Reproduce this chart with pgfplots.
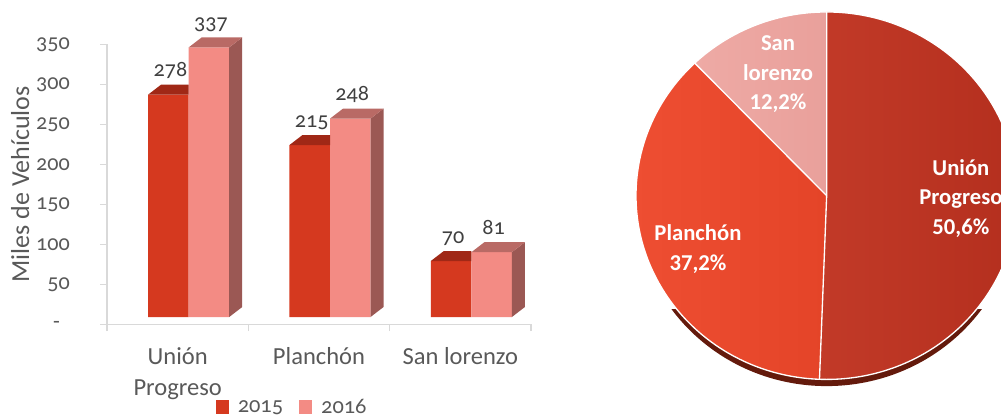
\documentclass[border=0pt]{standalone}
\usepackage{pgfplots}
\pgfplotsset{compat=1.18}
\usepackage{pgfplotstable}
\usepackage{fontspec}
\setmainfont{Carlito}
\newfontfamily\osf{Carlito}[Numbers=OldStyle]

\definecolor{c15}{RGB}{213,57,31}
\definecolor{t15}{RGB}{160,40,22}
\definecolor{c16}{RGB}{243,139,132}
\definecolor{t16}{RGB}{185,106,101}
\definecolor{s16}{RGB}{155,88,84}
\definecolor{txt}{RGB}{89,89,89}
\definecolor{lab}{RGB}{64,64,64}
\definecolor{axl}{RGB}{217,217,217}
\definecolor{pUa}{RGB}{194,58,40}
\definecolor{pUb}{RGB}{180,47,30}
\definecolor{pPa}{RGB}{238,78,50}
\definecolor{pPb}{RGB}{228,68,40}
\definecolor{pSa}{RGB}{238,170,165}
\definecolor{pSb}{RGB}{233,160,155}
\definecolor{shd}{RGB}{100,26,12}

\pgfplotstableread{
x a b
0 278 337
1 215 248
2 70 81
}\bardata

\pgfplotstableread{
name value
U 337
P 248
S 81
}\piedata

% visible top face of the 2015 bar; origin = top centre of front face
\pgfdeclareplotmark{cubeA}{%
  \pgfpathmoveto{\pgfqpoint{-15.2pt}{0pt}}%
  \pgfpathlineto{\pgfqpoint{15.2pt}{0pt}}%
  \pgfpathlineto{\pgfqpoint{15.2pt}{7.5pt}}%
  \pgfpathlineto{\pgfqpoint{-5.45pt}{7.5pt}}%
  \pgfpathclose
  \pgfsetfillcolor{t15}\pgfusepathqfill
}
% top + side faces of the 2016 bar
\pgfdeclareplotmark{cubeB}{%
  \pgfpathmoveto{\pgfqpoint{15.2pt}{0pt}}%
  \pgfpathlineto{\pgfqpoint{24.95pt}{7.5pt}}%
  \pgfpathlineto{\pgfpoint{24.95pt}{7.5pt-\rawy*0.6pt}}%
  \pgfpathlineto{\pgfpoint{15.2pt}{-\rawy*0.6pt}}%
  \pgfpathclose
  \pgfsetfillcolor{s16}\pgfusepathqfill
  \pgfpathmoveto{\pgfqpoint{-15.2pt}{0pt}}%
  \pgfpathlineto{\pgfqpoint{15.2pt}{0pt}}%
  \pgfpathlineto{\pgfqpoint{24.95pt}{7.5pt}}%
  \pgfpathlineto{\pgfqpoint{-5.45pt}{7.5pt}}%
  \pgfpathclose
  \pgfsetfillcolor{t16}\pgfusepathqfill
}

\begin{document}
\begin{tikzpicture}
\path[use as bounding box] (0,0) rectangle (750.75pt,312.75pt);
\clip (0,0) rectangle (750.75pt,312.75pt);

% pie angles from the data
\pgfplotstablegetelem{0}{value}\of\piedata \let\vU\pgfplotsretval
\pgfplotstablegetelem{1}{value}\of\piedata \let\vP\pgfplotsretval
\pgfplotstablegetelem{2}{value}\of\piedata \let\vS\pgfplotsretval
\pgfmathsetmacro{\tot}{\vU+\vP+\vS}
\pgfmathsetmacro{\fU}{\vU/\tot}
\pgfmathsetmacro{\fP}{\vP/\tot}
\pgfmathsetmacro{\aU}{90-360*\fU}
\pgfmathsetmacro{\aP}{\aU-360*\fP}

\begin{axis}[
  at={(80.25pt,69.375pt)}, anchor=south west,
  x=106pt, y=0.6pt,
  xmin=-0.5, xmax=2.5, ymin=0, ymax=350,
  clip=false,
  axis x line*=bottom, axis y line*=left,
  axis line style={draw=axl, line width=0.8pt},
  tick style={draw=axl, line width=0.8pt},
  tick align=outside,
  major tick length=5pt,
  ytick={0,50,...,350},
  yticklabels={{-}\rule{7.5pt}{0pt},50,100,150,200,250,300,350},
  yticklabel style={font=\osf\fontsize{16.6}{18}\selectfont, text=txt, anchor=east, xshift=-19.3pt},
  xtick={0,1,2},
  xticklabels={{Unión\\Progreso},Planchón,San lorenzo},
  xticklabel style={font=\fontsize{18.4}{23.3}\selectfont, text=txt, align=center, anchor=north, yshift=-8.6pt},
  x tick style={draw=none},
  minor xtick={-0.5,0.5,1.5,2.5},
  minor x tick style={draw=axl, line width=0.8pt},
  minor tick length=5pt,
  ylabel={Miles de Vehículos},
  every axis y label/.style={at={(axis description cs:-0.1835,0.5)}, rotate=90, anchor=base, font=\fontsize{19.5}{22}\selectfont, text=txt},
  legend image code/.code={\fill[#1] (0pt,-5pt) rectangle (10pt,5pt);},
  legend style={at={(axis description cs:0.4375,-0.295)}, anchor=center, draw=none, fill=none,
    legend columns=2, font=\osf\fontsize{16.8}{18}\selectfont, text=txt,
    /tikz/every odd column/.append style={column sep=4.5pt},
    /tikz/every even column/.append style={column sep=10pt}},
]
\addlegendimage{fill=c15, draw=none}
\addlegendentry{2015}
\addlegendimage{fill=c16, draw=none}
\addlegendentry{2016}

% 2015
\addplot[ybar, bar width=30.4pt, bar shift=-15.2pt, fill=c15, draw=none,
  xshift=8.25pt, yshift=5.6pt, forget plot] table[x=x, y=a] {\bardata};
\addplot[only marks, mark=cubeA, xshift={8.25pt-15.2pt}, yshift=5.6pt,
  visualization depends on={rawy \as \rawy},
  /pgf/number format/assume math mode=true,
  nodes near coords,
  every node near coord/.append style={anchor=base, xshift=1.5pt, yshift=13.5pt, font=\osf\fontsize{16.6}{18}\selectfont, text=lab},
  forget plot] table[x=x, y=a] {\bardata};
% 2016
\addplot[ybar, bar width=30.4pt, bar shift=15.2pt, fill=c16, draw=none,
  xshift=8.25pt, yshift=5.6pt, forget plot] table[x=x, y=b] {\bardata};
\addplot[only marks, mark=cubeB, xshift={8.25pt+15.2pt}, yshift=5.6pt,
  visualization depends on={rawy \as \rawy},
  /pgf/number format/assume math mode=true,
  nodes near coords,
  every node near coord/.append style={anchor=base, xshift=1.5pt, yshift=13.5pt, font=\osf\fontsize{16.6}{18}\selectfont, text=lab},
  forget plot] table[x=x, y=b] {\bardata};
\end{axis}

\begin{axis}[
  at={(620pt,165.98pt)}, anchor=center,
  x=143pt, y=137.8pt,
  xmin=-1, xmax=1, ymin=-1, ymax=1,
  hide axis, clip=false,
]
\begin{scope}
\clip (axis cs:-1.2,-0.62) rectangle (axis cs:1.2,-1.2);
\fill[shd] (axis cs:0,-0.0363) ellipse [x radius=143pt, y radius=137.8pt];
\end{scope}
\shade[left color=pUa, right color=pUb] (axis cs:0,0) -- (axis cs:0,1)
  arc[start angle=90, end angle=\aU, x radius=143pt, y radius=137.8pt] -- cycle;
\shade[left color=pPa, right color=pPb] (axis cs:0,0) -- (axis cs:{cos(\aU)},{sin(\aU)})
  arc[start angle=\aU, end angle=\aP, x radius=143pt, y radius=137.8pt] -- cycle;
\shade[left color=pSa, right color=pSb] (axis cs:0,0) -- (axis cs:{cos(\aP)},{sin(\aP)})
  arc[start angle=\aP, end angle=-270, x radius=143pt, y radius=137.8pt] -- cycle;
\draw[white, line width=1pt] (axis cs:0,1) -- (axis cs:0,0) -- (axis cs:{cos(\aU)},{sin(\aU)});
\draw[white, line width=1pt] (axis cs:0,0) -- (axis cs:{cos(\aP)},{sin(\aP)});
\draw[white, line width=1pt] (axis cs:0,0) ellipse [x radius=143pt, y radius=137.8pt];
\node[font=\bfseries\fontsize{17}{22}\selectfont, text=white, align=center] at (axis cs:-0.255,0.66) {San\\lorenzo\\12,2\%};
\node[font=\bfseries\fontsize{17}{22}\selectfont, text=white, align=center] at (axis cs:0.704,-0.015) {Unión\\Progreso\\50,6\%};
\node[font=\bfseries\fontsize{17}{22}\selectfont, text=white, align=center] at (axis cs:-0.675,-0.29) {Planchón\\37,2\%};
\end{axis}
\end{tikzpicture}
\end{document}
